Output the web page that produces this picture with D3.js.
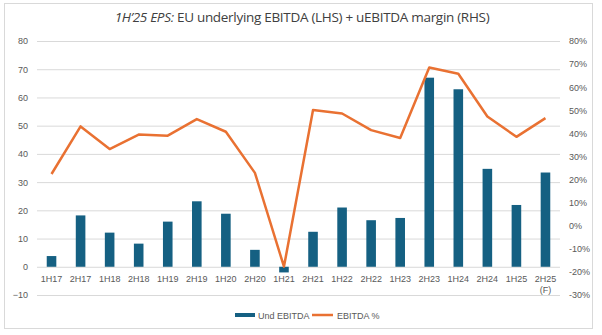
<!DOCTYPE html>
<html>
<head>
<meta charset="utf-8">
<script src="https://cdn.jsdelivr.net/npm/d3@7"></script>
<style>
  body { margin: 0; background: #fff; font-family: "Liberation Sans", Arial, sans-serif; }
  .tick text { fill: #595959; font-size: 9px; }
</style>
</head>
<body>
<div id="app-chart"></div>
<script>
let periods = ["1H17", "2H17", "1H18", "2H18", "1H19", "2H19", "1H20", "2H20", "1H21",
  "2H21", "1H22", "2H22", "1H23", "2H23", "1H24", "2H24", "1H25", "2H25\n(F)"]
let undEbitda = [3.8, 18.2, 12.1, 8.2, 16.0, 23.2, 18.8, 6.0, -2.0,
  12.4, 21.0, 16.5, 17.3, 67.0, 62.9, 34.7, 21.9, 33.4]
let ebitdaPct = [22.4, 43.0, 33.2, 39.5, 39.0, 46.2, 40.7, 22.9, -17.7,
  50.1, 48.6, 41.4, 38.0, 68.5, 65.8, 47.3, 38.5, 46.6]
let leftTicks = [-10, 0, 10, 20, 30, 40, 50, 60, 70, 80]
let rightTicks = [-30, -20, -10, 0, 10, 20, 30, 40, 50, 60, 70, 80]

let svgW = 602, svgH = 335
let margin = { left: 37, right: 42, top: 41, bottom: 40 }
let chartW = svgW - margin.left - margin.right
let chartH = svgH - margin.top - margin.bottom

let svg = d3.select("#app-chart").append("svg")
  .attr("width", svgW).attr("height", svgH)

// chart frame
svg.append("rect")
  .attr("x", 4.5).attr("y", 3.5).attr("width", 588).attr("height", 325)
  .attr("fill", "#fff").attr("stroke", "#d9d9d9")

// title
let title = svg.append("text")
  .attr("x", 302).attr("y", 22)
  .attr("text-anchor", "middle")
  .attr("fill", "#404040")
  .style("font-size", "13.5px")
  .style("font-family", "'Open Sans', sans-serif")
  .style("letter-spacing", "-0.3px")
title.append("tspan").attr("font-style", "italic").text("1H\u201925 EPS:")
title.append("tspan").text(" EU underlying EBITDA (LHS) + uEBITDA margin (RHS)")

let x = d3.scaleBand()
  .domain(periods)
  .range([0, chartW])
  .paddingInner(0.67)
  .paddingOuter(0.335)

let y = d3.scaleLinear().domain([-10, 80]).range([chartH, 0])
let y2 = d3.scaleLinear().domain([-30, 80]).range([chartH, 0])

let g = svg.append("g")
  .attr("transform", `translate(${margin.left},${margin.top})`)

// gridlines
g.append("g")
  .selectAll("line")
  .data(leftTicks)
  .enter().append("line")
  .attr("x1", 0).attr("x2", chartW)
  .attr("y1", d => y(d) + 0.5).attr("y2", d => y(d) + 0.5)
  .attr("stroke", "#d9d9d9")

// left axis
let yAxis = d3.axisLeft(y).tickValues(leftTicks).tickSize(0).tickPadding(9)
g.append("g").attr("class", "y axis").call(yAxis)
  .call(s => s.select(".domain").remove())

// right axis
let y2Axis = d3.axisRight(y2).tickValues(rightTicks)
  .tickFormat(d => d + "%").tickSize(0).tickPadding(9)
g.append("g").attr("class", "y2 axis")
  .attr("transform", `translate(${chartW},0)`)
  .call(y2Axis)
  .call(s => s.select(".domain").remove())

// bars
g.selectAll("rect.bar")
  .data(undEbitda)
  .enter().append("rect")
  .attr("class", "bar")
  .attr("x", (d, i) => x(periods[i]))
  .attr("width", x.bandwidth())
  .attr("y", d => y(Math.max(0, d)))
  .attr("height", d => Math.abs(y(d) - y(0)))
  .attr("fill", "#156082")

// x axis labels
let xLab = g.append("g").attr("class", "x axis")
  .selectAll("text")
  .data(periods)
  .enter().append("text")
  .attr("x", d => x(d) + x.bandwidth() / 2)
  .attr("y", y(0) + 15)
  .attr("text-anchor", "middle")
  .attr("fill", "#595959")
  .style("font-size", "9px")
xLab.each(function (d) {
  let parts = d.split("\n")
  let t = d3.select(this)
  parts.forEach((p, k) => {
    t.append("tspan")
      .attr("x", x(d) + x.bandwidth() / 2)
      .attr("dy", k === 0 ? 0 : 11)
      .text(p)
  })
})

// line
let line = d3.line()
  .x((d, i) => x(periods[i]) + x.bandwidth() / 2)
  .y(d => y2(d))
g.append("path")
  .datum(ebitdaPct)
  .attr("d", line)
  .attr("fill", "none")
  .attr("stroke", "#E97132")
  .attr("stroke-width", 2.5)
  .attr("stroke-linejoin", "round")

// legend
let leg = svg.append("g").attr("transform", "translate(0,315)")
leg.append("line").attr("x1", 235).attr("x2", 255).attr("y1", 0).attr("y2", 0)
  .attr("stroke", "#156082").attr("stroke-width", 4)
leg.append("text").attr("x", 258).attr("y", 3.5).attr("fill", "#595959")
  .style("font-size", "9px").text("Und EBITDA")
leg.append("line").attr("x1", 312).attr("x2", 333).attr("y1", 0).attr("y2", 0)
  .attr("stroke", "#E97132").attr("stroke-width", 2.5)
leg.append("text").attr("x", 337).attr("y", 3.5).attr("fill", "#595959")
  .style("font-size", "9px").text("EBITDA %")
</script>
</body>
</html>
